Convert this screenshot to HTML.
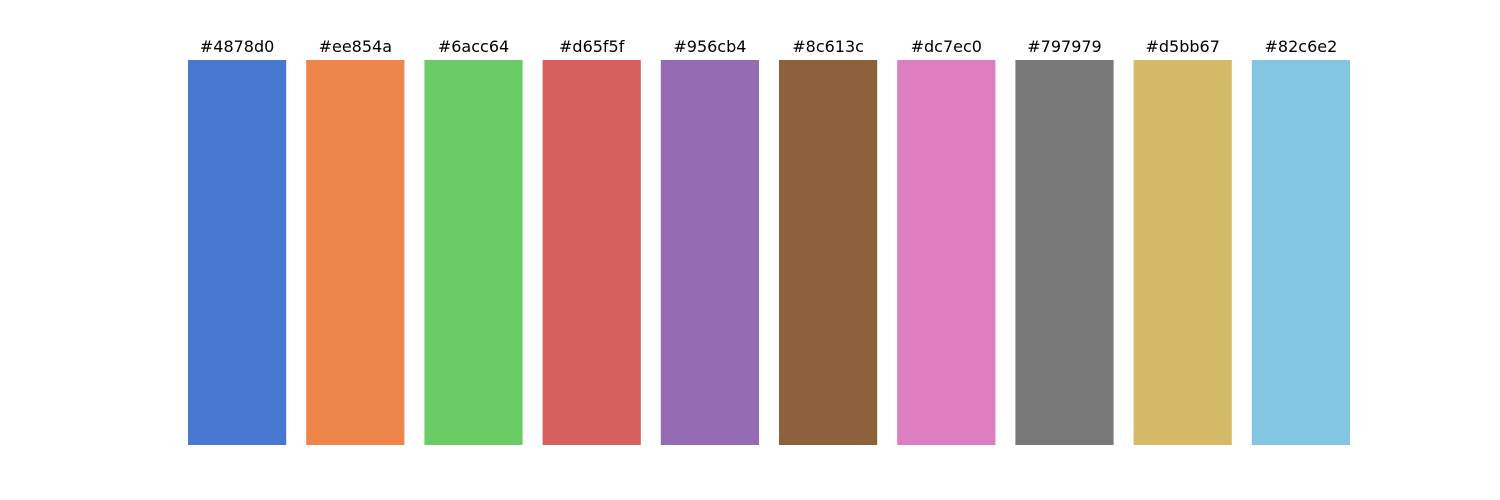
<!DOCTYPE html>
<html><head><meta charset="utf-8"><style>
html,body{margin:0;padding:0;background:#fff;}
svg{display:block;}
text{font-family:"DejaVu Sans","Liberation Sans",sans-serif;font-size:16px;fill:#000;}
</style></head><body>
<svg id="chart" width="1500" height="500"></svg>
<script>
const categories = ["#4878d0","#ee854a","#6acc64","#d65f5f","#956cb4","#8c613c","#dc7ec0","#797979","#d5bb67","#82c6e2"];
const values = [1,1,1,1,1,1,1,1,1,1];
const chartSvg = document.getElementById('chart');
const SVGNS = 'http://www.w3.org/2000/svg';
const plotLeft = 188, plotRight = 1350, plotTop = 60, plotBottom = 445;
const nBars = categories.length;
const pitch = (plotRight - plotLeft + 20) / nBars;
const barW = pitch - 20;
function xPos(i){ return plotLeft + i * pitch; }
function yPos(v){ return plotBottom - v * (plotBottom - plotTop); }
categories.forEach(function(c, i){
  const r = document.createElementNS(SVGNS, 'rect');
  r.setAttribute('x', xPos(i));
  r.setAttribute('y', yPos(values[i]));
  r.setAttribute('width', barW);
  r.setAttribute('height', plotBottom - yPos(values[i]));
  r.setAttribute('fill', c);
  
  
  chartSvg.appendChild(r);
  const t = document.createElementNS(SVGNS, 'text');
  t.setAttribute('x', xPos(i) + barW / 2);
  t.setAttribute('y', yPos(values[i]) - 8);
  t.setAttribute('text-anchor', 'middle');
  t.textContent = c;
  
  
  chartSvg.appendChild(t);
});
</script>
</body></html>
